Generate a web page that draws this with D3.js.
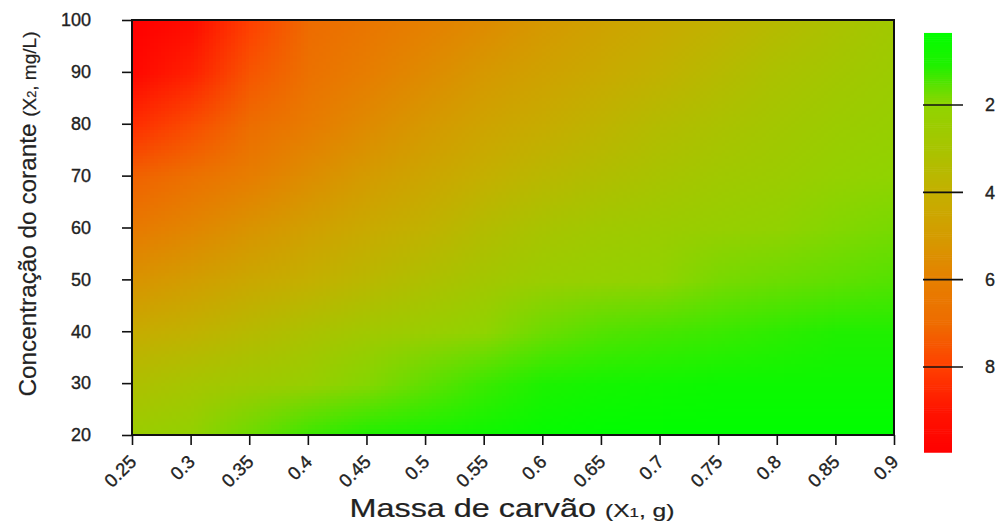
<!DOCTYPE html>
<html>
<head>
<meta charset="utf-8">
<script src="https://cdn.jsdelivr.net/npm/d3@7"></script>
<style>
body { margin: 0; background: #fff; }
text { font-family: "Liberation Sans", Arial, sans-serif; fill: #222; stroke: #222; stroke-width: 0.35px; }
</style>
</head>
<body>
<script>
var w = 997;
var h = 522;

// massa de carvão (g), columns
var massa = [0.25, 0.3, 0.35, 0.4, 0.45, 0.5, 0.55, 0.6, 0.65, 0.7, 0.75, 0.8, 0.85, 0.9];
// concentração do corante (mg/L), rows top to bottom
var conc = [100, 90, 80, 70, 60, 50, 40, 30, 20];
// response, one row per conc value
var resp = [
    [10.0, 9.4, 8.0, 7.0, 6.5, 6.0, 5.6, 5.1, 4.7, 4.3, 3.9, 3.5, 3.1, 2.7],
    [9.6, 8.7, 7.5, 6.7, 6.1, 5.6, 5.1, 4.7, 4.3, 3.9, 3.5, 3.1, 2.8, 2.5],
    [8.4, 7.7, 6.9, 6.2, 5.6, 5.1, 4.6, 4.2, 3.8, 3.4, 3.1, 2.8, 2.5, 2.3],
    [7.2, 6.7, 6.1, 5.5, 5.0, 4.5, 4.0, 3.6, 3.3, 3.0, 2.7, 2.5, 2.2, 2.0],
    [6.3, 5.8, 5.3, 4.8, 4.3, 3.9, 3.4, 3.0, 2.7, 2.5, 2.3, 2.1, 1.9, 1.8],
    [5.3, 4.9, 4.4, 4.0, 3.6, 3.2, 2.8, 2.4, 2.2, 2.0, 1.8, 1.7, 1.6, 1.5],
    [4.2, 3.9, 3.5, 3.1, 2.7, 2.4, 2.0, 1.7, 1.5, 1.4, 1.3, 1.2, 1.1, 1.1],
    [3.2, 2.9, 2.6, 2.3, 1.9, 1.6, 1.3, 1.0, 0.8, 0.7, 0.6, 0.6, 0.6, 0.6],
    [2.4, 2.1, 1.7, 1.3, 1.0, 0.8, 0.6, 0.4, 0.3, 0.3, 0.3, 0.3, 0.3, 0.3]
];
var legendTicks = [2, 4, 6, 8];
var legendRange = [0.35, 9.95];
var stopValues = [0.3, 1.1, 1.6, 2.0, 3.0, 4.0, 5.0, 6.0, 7.0, 8.0, 9.0, 10.0];
var stopColors = ["#00ff00", "#20f000", "#60e000", "#90d400", "#a8c400", "#c4b000",
                  "#d49c00", "#e68000", "#ee6c00", "#ff4000", "#ff1400", "#ff0000"];

var svg = d3.select("body")
    .append("svg")
    .attr("width", w)
    .attr("height", h);

var x = d3.scaleLinear().domain([0.25, 0.9]).range([132, 894]);
var y = d3.scaleLinear().domain([20, 100]).range([435, 20]);
var color = d3.scaleLinear().domain(stopValues).range(stopColors).clamp(true);

// heat map: one pixel per cell, stretched smooth by the browser
var canvas = document.createElement("canvas");
canvas.width = massa.length;
canvas.height = conc.length;
var ctx = canvas.getContext("2d");
resp.forEach(function(row, j) {
    row.forEach(function(v, i) {
        ctx.fillStyle = color(v);
        ctx.fillRect(i, j, 1, 1);
    });
});

var dx = (massa[1] - massa[0]) / 2;
var dy = (conc[0] - conc[1]) / 2;

svg.append("clipPath").attr("id", "plotclip")
    .append("rect")
    .attr("x", x(0.25)).attr("y", y(100))
    .attr("width", x(0.9) - x(0.25)).attr("height", y(20) - y(100));

svg.append("g").attr("clip-path", "url(#plotclip)")
    .append("image")
    .attr("href", canvas.toDataURL())
    .attr("preserveAspectRatio", "none")
    .attr("x", x(massa[0] - dx))
    .attr("y", y(conc[0] + dy))
    .attr("width", x(massa[massa.length - 1] + dx) - x(massa[0] - dx))
    .attr("height", y(conc[conc.length - 1] - dy) - y(conc[0] + dy));

// axes
var xAxis = svg.append("g")
    .attr("transform", "translate(0," + y(20) + ")")
    .call(d3.axisBottom(x).tickValues(massa).tickSize(10).tickFormat(function(d) { return String(d); }));
xAxis.select(".domain").remove();
xAxis.selectAll("line").attr("stroke", "#111").attr("stroke-width", 1.6);
xAxis.selectAll("text")
    .attr("y", 0).attr("dy", 0)
    .attr("text-anchor", "end")
    .attr("transform", "translate(5,28) rotate(-45)")
    .style("font-size", "18.5px");

var yAxis = svg.append("g")
    .attr("transform", "translate(" + x(0.25) + ",0)")
    .call(d3.axisLeft(y).tickValues(conc).tickSize(10).tickPadding(31));
yAxis.select(".domain").remove();
yAxis.selectAll("line").attr("stroke", "#111").attr("stroke-width", 1.6);
yAxis.selectAll("text")
    .style("font-size", "18px");

// frame
svg.append("rect")
    .attr("x", x(0.25)).attr("y", y(100))
    .attr("width", x(0.9) - x(0.25)).attr("height", y(20) - y(100))
    .attr("fill", "none")
    .attr("stroke", "#111")
    .attr("stroke-width", 2);

// axis titles
var xt = svg.append("text")
    .attr("x", 512).attr("y", 517)
    .attr("text-anchor", "middle")
    .attr("textLength", 325)
    .attr("lengthAdjust", "spacingAndGlyphs")
    .style("font-size", "25px")
    .style("stroke-width", "0.2px");
xt.append("tspan").text("Massa de carvão ");
xt.append("tspan").style("font-size", "19px").text("(X");
xt.append("tspan").style("font-size", "13px").text("1");
xt.append("tspan").style("font-size", "19px").text(", g)");

var yt = svg.append("text")
    .attr("transform", "translate(36,214) rotate(-90)")
    .attr("text-anchor", "middle")
    .attr("textLength", 365)
    .attr("lengthAdjust", "spacingAndGlyphs")
    .style("font-size", "23px")
    .style("stroke-width", "0.2px");
yt.append("tspan").text("Concentração do corante ");
yt.append("tspan").style("font-size", "18px").text("(X");
yt.append("tspan").style("font-size", "12px").text("2");
yt.append("tspan").style("font-size", "18px").text(", mg/L)");

// legend
var ly = d3.scaleLinear().domain([2, 8]).range([105, 367]);
var steps = d3.range(0, 200);
var lstep = (legendRange[1] - legendRange[0]) / steps.length;
svg.append("g").selectAll("rect")
    .data(steps)
    .enter().append("rect")
    .attr("x", 924)
    .attr("width", 28)
    .attr("y", function(d) { return ly(legendRange[0] + d * lstep); })
    .attr("height", function(d) { return ly(legendRange[0] + (d + 1) * lstep) - ly(legendRange[0] + d * lstep) + 0.6; })
    .attr("fill", function(d) { return color(legendRange[0] + (d + 0.5) * lstep); });

var lg = svg.append("g").selectAll("g")
    .data(legendTicks)
    .enter().append("g")
    .attr("transform", function(d) { return "translate(0," + ly(d) + ")"; });
lg.append("line")
    .attr("x1", 923).attr("x2", 963)
    .attr("stroke", "#111").attr("stroke-width", 1.6);
lg.append("text")
    .attr("x", 985).attr("dy", "0.35em")
    .style("font-size", "18px")
    .text(function(d) { return d; });
</script>
</body>
</html>
